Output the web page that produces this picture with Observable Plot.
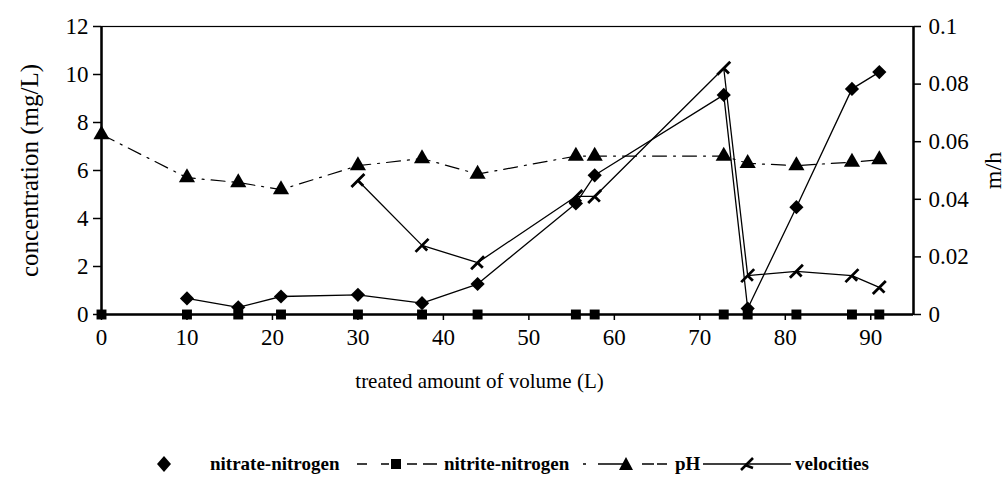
<!DOCTYPE html>
<html>
<head>
<meta charset="utf-8">
<script src="https://cdn.jsdelivr.net/npm/d3@7"></script>
<script src="https://cdn.jsdelivr.net/npm/@observablehq/plot@0.6"></script>
<style>
  html, body { margin: 0; padding: 0; background: white; }
  #wrap { position: relative; width: 1008px; height: 481px; font-family: "Liberation Serif", "DejaVu Serif", serif; }
  #chart svg, #chart svg text { font-family: "Liberation Serif", "DejaVu Serif", serif !important; }
  #legend { position: absolute; left: 0; top: 447px; width: 1008px; height: 34px; }
  #legend .it { position: absolute; top: 0; height: 34px; display: flex; align-items: center; }
  #legend .tx { font-family: "Liberation Serif", "DejaVu Serif", serif; font-size: 19px; font-weight: bold; color: #000; white-space: nowrap; }
</style>
</head>
<body>
<div id="wrap">
  <div id="chart"></div>
  <div id="legend"></div>
</div>
<script>
// ---- data ----
const volume   = [0, 10, 16, 21, 30, 37.5, 44, 55.5, 57.7, 72.8, 75.6, 81.3, 87.8, 91];
const nitrate  = [null, 0.67, 0.3, 0.75, 0.82, 0.47, 1.27, 4.63, 5.8, 9.15, 0.25, 4.47, 9.4, 10.1];
const nitrite  = [0, 0, 0, 0, 0, 0, 0, 0, 0, 0, 0, 0, 0, 0];
const pH       = [7.5, 5.7, 5.5, 5.2, 6.2, 6.5, 5.85, 6.6, 6.6, 6.6, 6.3, 6.2, 6.35, 6.45];
const velocity = [null, null, null, null, 0.0465, 0.024, 0.018, 0.041, 0.041, 0.0855, 0.0135, 0.015, 0.0135, 0.0094];
const xTicks   = [0, 10, 20, 30, 40, 50, 60, 70, 80, 90];
const yTicks   = [0, 2, 4, 6, 8, 10, 12];
const vTicks   = [0, 0.02, 0.04, 0.06, 0.08, 0.1];
const seriesNames = ["nitrate-nitrogen", "nitrite-nitrogen", "pH", "velocities"];

const k = 12 / 0.1; // right axis (m/h) mapped onto left scale
const rows = volume.map((v, i) => ({
  volume: v,
  nitrate: nitrate[i] == null ? NaN : nitrate[i],
  nitrite: nitrite[i],
  pH: pH[i],
  velocity: velocity[i] == null ? NaN : velocity[i] * k
}));

const velSymbol = {
  draw(ctx, size) {
    const s = Math.sqrt(size / Math.PI);
    ctx.moveTo(-s, s); ctx.lineTo(s, -s);
    ctx.moveTo(0, 0); ctx.lineTo(s * 0.8, s * 0.8);
  }
};

const serif = "'Liberation Serif', 'DejaVu Serif', serif";
const chart = Plot.plot({
  width: 1008,
  height: 430,
  marginLeft: 101,
  marginRight: 95,
  marginTop: 26,
  marginBottom: 116,
  x: { domain: [0, 95] },
  y: { domain: [0, 12] },
  style: { fontFamily: serif, fontSize: "23px", color: "black", background: "white", overflow: "visible" },
  marks: [
    Plot.axisX({ ticks: xTicks, tickSize: 6, tickPadding: 8, label: null, tickFormat: d3.format("d"), strokeWidth: 1.5 }),
    Plot.axisY({ ticks: yTicks, tickSize: 8, tickPadding: 5, label: null, strokeWidth: 1.5 }),
    Plot.axisY({ anchor: "right", ticks: vTicks.map(d => d * k), tickSize: 7, tickPadding: 8, label: null,
                 tickFormat: d => d3.format(".2~f")(d / k), strokeWidth: 1.5 }),
    Plot.frame({ stroke: "black", strokeWidth: 1.2 }),
    Plot.ruleY([0], { stroke: "black", strokeWidth: 2.5 }),
    Plot.ruleX([0], { stroke: "black", strokeWidth: 2.5 }),
    Plot.ruleX([95], { stroke: "black", strokeWidth: 2.5 }),
    // pH
    Plot.line(rows, { x: "volume", y: "pH", stroke: "black", strokeWidth: 1.2, strokeDasharray: "14,7,2,7" }),
    // nitrite
    Plot.line(rows, { x: "volume", y: "nitrite", stroke: "black", strokeWidth: 1.2, strokeDasharray: "10,5" }),
    // nitrate
    Plot.line(rows, { x: "volume", y: "nitrate", stroke: "black", strokeWidth: 1.3 }),
    // velocities
    Plot.line(rows, { x: "volume", y: "velocity", stroke: "black", strokeWidth: 1.3 }),
    Plot.dot(rows, { x: "volume", y: "pH", symbol: "triangle", r: 6, fill: "black", stroke: "none" }),
    Plot.dot(rows, { x: "volume", y: "nitrite", symbol: "square", r: 5.6, fill: "black", stroke: "none" }),
    Plot.dot(rows, { x: "volume", y: "nitrate", symbol: "diamond2", r: 6.4, fill: "black", stroke: "none" }),
    Plot.dot(rows, { x: "volume", y: "velocity", symbol: velSymbol, r: 6.5, fill: "none", stroke: "black", strokeWidth: 2.8 }),
    // axis titles
    Plot.text(["concentration (mg/L)"], { frameAnchor: "left", textAnchor: "middle", rotate: -90, dx: -72, fontSize: 25, fontFamily: serif }),
    Plot.text(["m/h"], { frameAnchor: "right", textAnchor: "middle", rotate: -90, dx: 80, fontSize: 24, fontFamily: serif }),
    Plot.text(["treated amount of volume (L)"], { frameAnchor: "bottom", textAnchor: "middle", dy: 73, dx: -28, fontSize: 21, fontFamily: serif })
  ]
});
document.getElementById("chart").appendChild(chart);

// ---- legend ----
const legend = document.getElementById("legend");
function item(left, html) {
  const d = document.createElement("div");
  d.className = "it";
  d.style.left = left + "px";
  d.innerHTML = html;
  legend.appendChild(d);
}
item(155, `<svg width="18" height="20"><path d="M9,2 L16,10 L9,18 L2,10 Z" fill="black"/></svg>`);
item(210, `<span class="tx">${seriesNames[0]}</span>`);
item(357, `<svg width="80" height="20"><line x1="0" y1="10" x2="80" y2="10" stroke="black" stroke-width="1.3" stroke-dasharray="10,14,8,18,10,6,14"/><rect x="34" y="5" width="10" height="10" fill="black"/></svg>`);
item(444, `<span class="tx">${seriesNames[1]}</span>`);
item(583, `<svg width="84" height="20"><line x1="0" y1="10" x2="84" y2="10" stroke="black" stroke-width="1.3" stroke-dasharray="3,12,26,18,12"/><path d="M43,3 L50,16 L36,16 Z" fill="black"/></svg>`);
item(675, `<span class="tx">${seriesNames[2]}</span>`);
item(703, `<svg width="88" height="20"><line x1="0" y1="10" x2="88" y2="10" stroke="black" stroke-width="1.3"/><path d="M38,16 L50,4 M42,11 L50,14" stroke="black" stroke-width="2.6" fill="none"/></svg>`);
item(795, `<span class="tx">${seriesNames[3]}</span>`);
</script>
</body>
</html>
